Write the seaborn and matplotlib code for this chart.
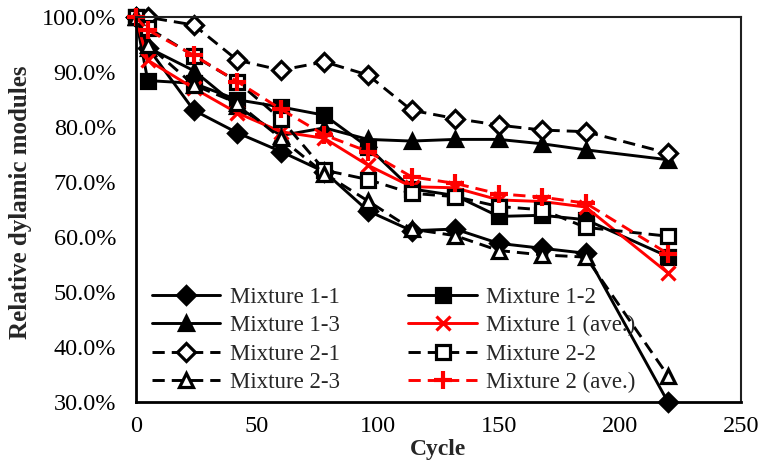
import matplotlib
matplotlib.use("Agg")
import matplotlib.pyplot as plt
import seaborn as sns
from matplotlib.ticker import PercentFormatter, MultipleLocator

cycles = [0, 5, 24, 42, 60, 78, 96, 114, 132, 150, 168, 186, 220]
m1_1 = [100, 94.5, 83.1, 79.0, 75.6, 71.9, 64.8, 61.2, 61.5, 58.9, 58.0, 57.1, 30.0]
m1_2 = [100, 88.5, 88.0, 85.0, 83.7, 82.2, 76.4, 68.8, 67.6, 63.8, 64.0, 63.2, 56.5]
m1_3 = [100, 94.5, 90.3, 83.8, 78.5, 79.9, 77.8, 77.5, 77.8, 77.8, 77.0, 75.9, 74.1]
m1_ave = [100, 92.2, 87.1, 82.6, 79.2, 78.0, 73.1, 69.2, 69.0, 66.8, 66.5, 65.5, 53.5]
m2_1 = [100, 100, 98.6, 92.2, 90.4, 91.9, 89.5, 83.1, 81.6, 80.4, 79.5, 79.2, 75.3]
m2_2 = [100, 98.1, 93.0, 88.3, 81.5, 72.2, 70.5, 68.0, 67.4, 65.6, 65.0, 61.8, 60.2]
m2_3 = [100, 95.0, 87.7, 84.4, 78.0, 71.6, 66.6, 61.5, 60.3, 57.6, 56.8, 56.4, 34.8]
m2_ave = [100, 97.7, 93.1, 88.3, 83.3, 78.6, 75.6, 71.0, 69.8, 67.9, 67.3, 66.2, 57.0]

labels = ["Mixture 1-1", "Mixture 1-2", "Mixture 1-3", "Mixture 1 (ave.)",
          "Mixture 2-1", "Mixture 2-2", "Mixture 2-3", "Mixture 2 (ave.)"]
series = [m1_1, m1_2, m1_3, m1_ave, m2_1, m2_2, m2_3, m2_ave]

sns.set_style("white")
plt.rcParams["font.family"] = ["Liberation Serif", "DejaVu Serif"]

styles = [
    dict(color="black", marker="D", ls="-", mfc="black", mec="black", ms=9),
    dict(color="black", marker="s", ls="-", mfc="black", mec="black", ms=10),
    dict(color="black", marker="^", ls="-", mfc="black", mec="black", ms=10.5),
    dict(color="red", marker="x", ls="-", mfc="red", mec="red", ms=10.5),
    dict(color="black", marker="D", ls="--", mfc="white", mec="black", ms=9.5),
    dict(color="black", marker="s", ls="--", mfc="white", mec="black", ms=10.5),
    dict(color="black", marker="^", ls="--", mfc="white", mec="black", ms=10.5),
    dict(color="red", marker="P", ls="--", mfc="red", mec="red", ms=0.1),
]

fig = plt.figure(figsize=(7.61, 4.65), dpi=100)
ax = fig.add_axes([0.1783, 0.1348, 0.795, 0.828])

handles = []
for lab, vals, st in zip(labels, series, styles):
    sns.lineplot(x=cycles, y=vals, ax=ax, color=st["color"], linewidth=2.1,
                 linestyle=st["ls"], dashes=False if st["ls"] == "-" else True,
                 marker=st["marker"], markersize=st["ms"],
                 markerfacecolor=st["mfc"], markeredgecolor=st["mec"],
                 markeredgewidth=2.3, label=lab, legend=False, errorbar=None,
                 sort=False, clip_on=False)
    line = ax.get_lines()[-1]
    line.set_linestyle(st["ls"])
    if st["ls"] == "--":
        line.set_dashes((4.2, 2.4))
    if lab == "Mixture 2 (ave.)":
        line.set_marker("+")
        line.set_markersize(13.5)
        line.set_markeredgewidth(3)
    line.set_label(lab)
    handles.append(line)

ax.set_xlim(0, 250)
ax.set_ylim(30, 100)
ax.xaxis.set_major_locator(MultipleLocator(50))
ax.yaxis.set_major_locator(MultipleLocator(10))
ax.yaxis.set_major_formatter(PercentFormatter(decimals=1))
ax.tick_params(axis="both", labelsize=17.5, direction="out", length=5,
               width=1.2, color="#808080", labelcolor="black")
ax.tick_params(axis="y", pad=9)
ax.tick_params(axis="x", pad=5)
for side in ["left", "bottom"]:
    ax.spines[side].set_linewidth(2.0)
    ax.spines[side].set_color("black")
for side in ["top", "right"]:
    ax.spines[side].set_linewidth(1.5)
    ax.spines[side].set_color("#202020")

ax.set_xlabel("Cycle", fontsize=17, fontweight="bold", labelpad=1)
ax.set_ylabel("Relative dylamic modules", fontsize=18, fontweight="bold", labelpad=6)
ax.yaxis.set_label_coords(-0.172, 0.52)

order = [0, 2, 4, 6, 1, 3, 5, 7]
ax.legend([handles[i] for i in order], [labels[i] for i in order], ncol=2,
          loc="lower left", bbox_to_anchor=(0.0, -0.018), frameon=False,
          fontsize=16.5, handlelength=3.0, columnspacing=3.0, labelspacing=0.32,
          handletextpad=0.4, borderaxespad=0.3)

fig.savefig("out.png", dpi=100)
